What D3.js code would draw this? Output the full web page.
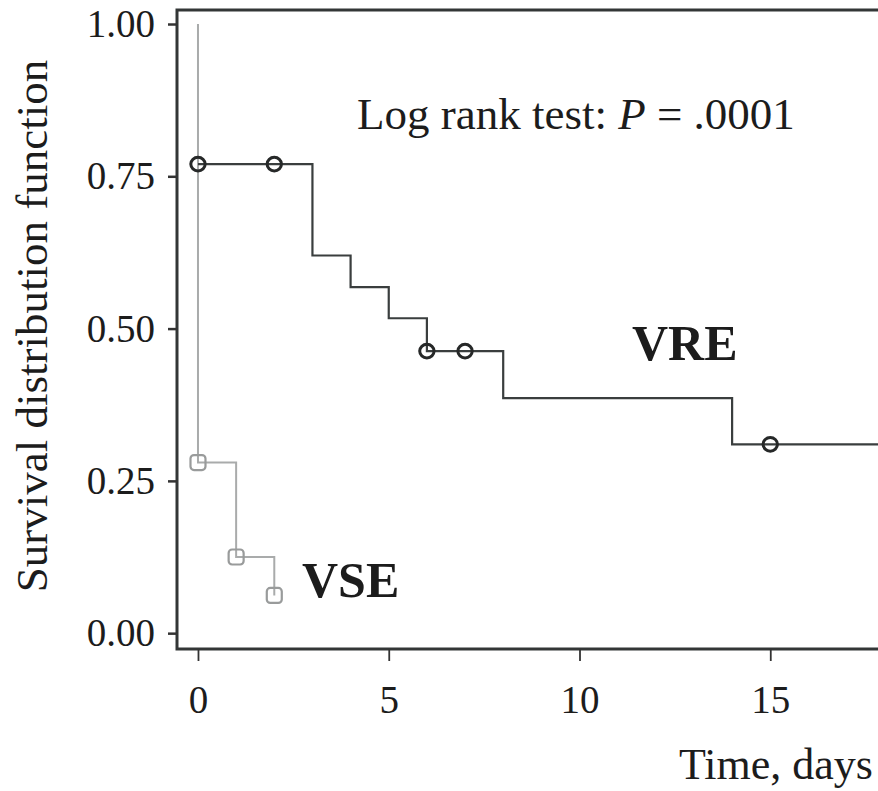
<!DOCTYPE html>
<html>
<head>
<meta charset="utf-8">
<script src="https://cdn.jsdelivr.net/npm/d3@7"></script>
<style>
  html, body { margin: 0; padding: 0; background: #fff; }
  svg { display: block; }
  text { font-family: "Liberation Serif", "Times New Roman", serif; fill: #1c1c1c; }
</style>
</head>
<body>
<div id="chart"></div>
<script>
// data
const vreTimes = [0, 3, 4, 5, 6, 8, 14, 18];
const vreSurv = [0.77, 0.62, 0.568, 0.517, 0.463, 0.386, 0.31, 0.31];
const vreCensorTimes = [0, 2, 6, 7, 15];
const vreCensorSurv = [0.77, 0.77, 0.463, 0.463, 0.31];

const vseTimes = [0, 0, 1, 2];
const vseSurv = [1.0, 0.28, 0.125, 0.062];
const vseCensorTimes = [0, 1, 2];
const vseCensorSurv = [0.28, 0.125, 0.062];

const xTicks = [0, 5, 10, 15];
const yTicks = [0, 0.25, 0.5, 0.75, 1];

let width = 878;
let height = 791;

let svg = d3.select('#chart')
  .append('svg')
  .attr('width', width)
  .attr('height', height);

let x = d3.scaleLinear().domain([-0.55, 17.85]).range([177, 879]);
let y = d3.scaleLinear().domain([-0.026, 1.023]).range([649, 10]);

// frame: top, left and bottom (right side is cut off)
svg.append('path')
  .attr('d', 'M' + (width + 5) + ',' + y.range()[1] + 'H' + x.range()[0] + 'V' + y.range()[0] + 'H' + (width + 5))
  .attr('fill', 'none')
  .attr('stroke', '#333636')
  .attr('stroke-width', 3);

// y axis
let yAxis = d3.axisLeft(y)
  .tickValues(yTicks)
  .tickSize(9)
  .tickPadding(13)
  .tickFormat(d3.format('.2f'));

let gy = svg.append('g')
  .attr('transform', 'translate(' + x.range()[0] + ',0)')
  .call(yAxis);
gy.select('.domain').remove();
gy.selectAll('.tick line').attr('stroke', '#333').attr('stroke-width', 2.5);
gy.selectAll('.tick text')
  .attr('font-size', '39px')
  .attr('fill', '#1c1c1c')
  .attr('font-family', '"Liberation Serif", "Times New Roman", serif');

// x axis
let xAxis = d3.axisBottom(x)
  .tickValues(xTicks)
  .tickSize(12)
  .tickPadding(24)
  .tickFormat(d3.format('d'));

let gx = svg.append('g')
  .attr('transform', 'translate(0,' + y.range()[0] + ')')
  .call(xAxis);
gx.select('.domain').remove();
gx.selectAll('.tick line').attr('stroke', '#333').attr('stroke-width', 1.8);
gx.selectAll('.tick text')
  .attr('font-size', '39px')
  .attr('fill', '#1c1c1c')
  .attr('font-family', '"Liberation Serif", "Times New Roman", serif');

// survival step lines
let step = d3.line()
  .x(d => x(d[0]))
  .y(d => y(d[1]))
  .curve(d3.curveStepAfter);

svg.append('clipPath').attr('id', 'plot')
  .append('rect')
  .attr('x', x.range()[0])
  .attr('y', y.range()[1])
  .attr('width', width - x.range()[0])
  .attr('height', y.range()[0] - y.range()[1]);

let plot = svg.append('g').attr('clip-path', 'url(#plot)');

plot.append('path')
  .datum(vseTimes.map((t, i) => [t, vseSurv[i]]))
  .attr('d', step)
  .attr('fill', 'none')
  .attr('stroke', '#a9abab')
  .attr('stroke-width', 2);

plot.append('path')
  .datum(vreTimes.map((t, i) => [t, vreSurv[i]]))
  .attr('d', step)
  .attr('fill', 'none')
  .attr('stroke', '#3a3e3e')
  .attr('stroke-width', 2.2);

// censor marks
plot.selectAll('.vse-mark')
  .data(vseCensorTimes.map((t, i) => [t, vseCensorSurv[i]]))
  .enter()
  .append('rect')
  .attr('class', 'vse-mark')
  .attr('x', d => x(d[0]) - 7.5)
  .attr('y', d => y(d[1]) - 7.5)
  .attr('width', 15)
  .attr('height', 15)
  .attr('rx', 3.5)
  .attr('fill', 'none')
  .attr('stroke', '#999b9b')
  .attr('stroke-width', 2.2);

plot.selectAll('.vre-mark')
  .data(vreCensorTimes.map((t, i) => [t, vreCensorSurv[i]]))
  .enter()
  .append('ellipse')
  .attr('class', 'vre-mark')
  .attr('cx', d => x(d[0]))
  .attr('cy', d => y(d[1]))
  .attr('rx', 7.2)
  .attr('ry', 6.8)
  .attr('fill', 'none')
  .attr('stroke', '#262828')
  .attr('stroke-width', 3);

// labels
svg.append('text')
  .attr('x', 357)
  .attr('y', 129)
  .attr('font-size', '45px')
  .attr('fill', '#2a2a2a')
  .html('Log rank test: <tspan font-style="italic">P</tspan> = .0001');

svg.append('text')
  .attr('x', 632)
  .attr('y', 360)
  .attr('font-size', '50px')
  .attr('font-weight', 'bold')
  .text('VRE');

svg.append('text')
  .attr('x', 302)
  .attr('y', 597)
  .attr('font-size', '50px')
  .attr('font-weight', 'bold')
  .text('VSE');

svg.append('text')
  .attr('transform', 'translate(47,326) rotate(-90)')
  .attr('text-anchor', 'middle')
  .attr('font-size', '45px')
  .text('Survival distribution function');

svg.append('text')
  .attr('x', 873)
  .attr('y', 779)
  .attr('text-anchor', 'end')
  .attr('font-size', '44px')
  .text('Time, days');
</script>
</body>
</html>
